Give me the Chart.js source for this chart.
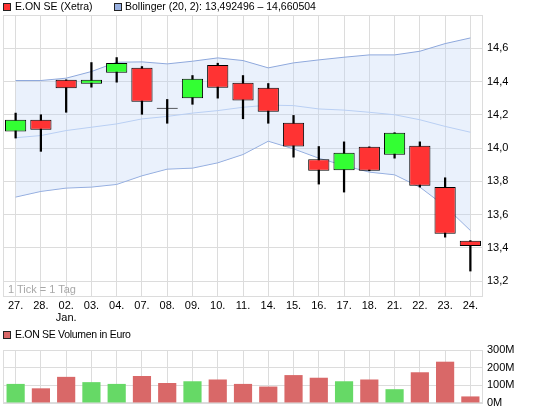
<!DOCTYPE html>
<html>
<head>
<meta charset="utf-8">
<script src="https://cdn.jsdelivr.net/npm/chart.js@4/dist/chart.umd.min.js"></script>
<style>
  body{margin:0;background:#fff;font-family:"Liberation Sans",Arial,sans-serif;font-size:10.5px;color:#000}
  #wrap{position:relative;width:545px;height:413px;overflow:hidden}
  .lg{position:absolute;line-height:13px;white-space:nowrap}
  .box{position:absolute;width:6px;height:6px;border:1px solid #222}
  canvas{position:absolute;left:0}
</style>
</head>
<body>
<div id="wrap">
  <canvas id="main" width="545" height="330" style="top:0"></canvas>
  <canvas id="vol" width="545" height="73" style="top:340px"></canvas>
  <div class="box" style="left:3px;top:3px;background:#ff3333"></div>
  <div class="lg" style="left:15px;top:0px">E.ON SE (Xetra)</div>
  <div class="box" style="left:114px;top:3px;background:#98b0e0"></div>
  <div class="lg" style="left:125px;top:0px">Bollinger (20, 2): 13,492496 – 14,660504</div>
  <div class="lg" style="left:8px;top:283px;color:#a8a8a8;font-size:11px">1 Tick = 1 Tag</div>
  <div class="box" style="left:3px;top:331px;background:#d96868"></div>
  <div class="lg" style="left:15px;top:328px;letter-spacing:-0.3px">E.ON SE Volumen in Euro</div>
</div>
<script>
const days=['27.','28.','02.','03.','04.','07.','08.','09.','10.','11.','14.','15.','16.','17.','18.','21.','22.','23.','24.'];
const monthAt=2, monthName='Jan.';

const opens =[14.10,14.17,14.41,14.386,14.452,14.482,14.236,14.30,14.50,14.392,14.362,14.152,13.933,13.867,14.007,13.959,14.013,13.765,13.443];
const closes=[14.17,14.11,14.36,14.41,14.512,14.278,14.236,14.416,14.362,14.286,14.218,14.009,13.863,13.971,13.863,14.092,13.773,13.485,13.41];
const highs =[14.21,14.20,14.41,14.514,14.544,14.49,14.292,14.436,14.51,14.436,14.388,14.196,14.009,14.037,14.007,14.092,14.037,13.821,13.443];
const lows  =[14.06,13.98,14.215,14.366,14.396,14.203,14.149,14.263,14.30,14.176,14.149,13.945,13.783,13.735,13.863,13.939,13.765,13.464,13.26];

const bbUpper=[14.406,14.406,14.42,14.46,14.516,14.518,14.506,14.522,14.542,14.526,14.482,14.512,14.53,14.546,14.56,14.56,14.582,14.628,14.662];
const bbMid  =[14.062,14.075,14.105,14.125,14.145,14.175,14.19,14.21,14.225,14.245,14.258,14.255,14.235,14.228,14.215,14.20,14.17,14.13,14.095];
const bbLower=[13.705,13.739,13.759,13.765,13.781,13.833,13.873,13.879,13.911,13.961,14.041,13.995,13.939,13.895,13.855,13.839,13.765,13.65,13.504];

const volumes=[108,83,148,118,108,153,113,123,133,108,93,158,143,123,133,78,174,234,37]; // Mio. Euro

const priceTicks=[13.2,13.4,13.6,13.8,14.0,14.2,14.4,14.6];
const volTicks=[0,100,200,300];

const labels=days.map((d,i)=>i===monthAt?[d,monthName]:d);
const up=opens.map((o,i)=>closes[i]>o);
const doji=opens.map((o,i)=>closes[i]===o);

const FONT={family:'"Liberation Sans", Arial, sans-serif',size:11,lineHeight:1.1};
const GRID='#dcdcdc';

const frame={
  id:'frame',
  beforeDatasetsDraw(chart){
    const a=chart.chartArea,c=chart.ctx;
    c.save();c.strokeStyle=GRID;c.lineWidth=1;
    c.strokeRect(Math.round(a.left)+0.5,Math.round(a.top)+0.5,Math.round(a.right-a.left)-1,Math.round(a.bottom-a.top));
    c.restore();
  }
};

new Chart(document.getElementById('main'),{
  type:'bar',
  data:{
    labels:labels,
    datasets:[
      {type:'line',data:bbUpper,borderColor:'#8ea8dc',borderWidth:1,pointRadius:0,tension:0,
       fill:'+1',backgroundColor:'rgba(190,210,245,0.32)',order:5},
      {type:'line',data:bbLower,borderColor:'#8ea8dc',borderWidth:1,pointRadius:0,tension:0,fill:false,order:5},
      {type:'line',data:bbMid,borderColor:'#b9cff3',borderWidth:1,pointRadius:0,tension:0,fill:false,order:4},
      {data:lows.map((l,i)=>[l,highs[i]]),backgroundColor:'#000',barThickness:1.6,grouped:false,order:2},
      {data:opens.map((o,i)=>[o,closes[i]]),
       backgroundColor:opens.map((o,i)=>doji[i]?'#000':(up[i]?'#33ff33':'#ff3333')),
       borderColor:'#000',borderWidth:1,borderSkipped:false,minBarLength:1,
       barPercentage:0.84,categoryPercentage:1,grouped:false,order:1}
    ]
  },
  options:{
    animation:false,responsive:false,
    layout:{padding:{top:15,left:3,right:0,bottom:0}},
    plugins:{legend:{display:false},tooltip:{enabled:false}},
    scales:{
      x:{offset:true,
         grid:{offset:false,color:GRID,drawTicks:false},
         border:{display:false},
         ticks:{color:'#000',font:FONT,padding:4,maxRotation:0,autoSkip:false},
         afterFit(s){s.height=34;}},
      y:{position:'right',min:13.11,max:14.8,
         grid:{color:GRID,drawTicks:false},
         border:{display:false},
         afterBuildTicks(s){s.ticks=priceTicks.map(v=>({value:v}));},
         ticks:{color:'#000',font:FONT,padding:4,callback:v=>v.toFixed(1).replace('.',',')},
         afterFit(s){s.width=62;}}
    }
  },
  plugins:[frame]
});

new Chart(document.getElementById('vol'),{
  type:'bar',
  data:{
    labels:labels,
    datasets:[{data:volumes,backgroundColor:volumes.map((v,i)=>up[i]?'#66d966':'#d96868'),
      barPercentage:0.72,categoryPercentage:1}]
  },
  options:{
    animation:false,responsive:false,
    layout:{padding:{top:5,left:3,right:0,bottom:9}},
    plugins:{legend:{display:false},tooltip:{enabled:false}},
    scales:{
      x:{offset:true,grid:{offset:false,color:GRID,drawTicks:false},border:{display:false},
         ticks:{display:false},afterFit(s){s.height=0;}},
      y:{position:'right',min:0,max:300,
         grid:{color:GRID,drawTicks:false},border:{display:false},
         afterBuildTicks(s){s.ticks=volTicks.map(v=>({value:v}));},
         ticks:{color:'#000',font:FONT,padding:4,callback:v=>v+'M'},
         afterFit(s){s.width=62;}}
    }
  },
  plugins:[frame]
});
</script>
</body>
</html>
